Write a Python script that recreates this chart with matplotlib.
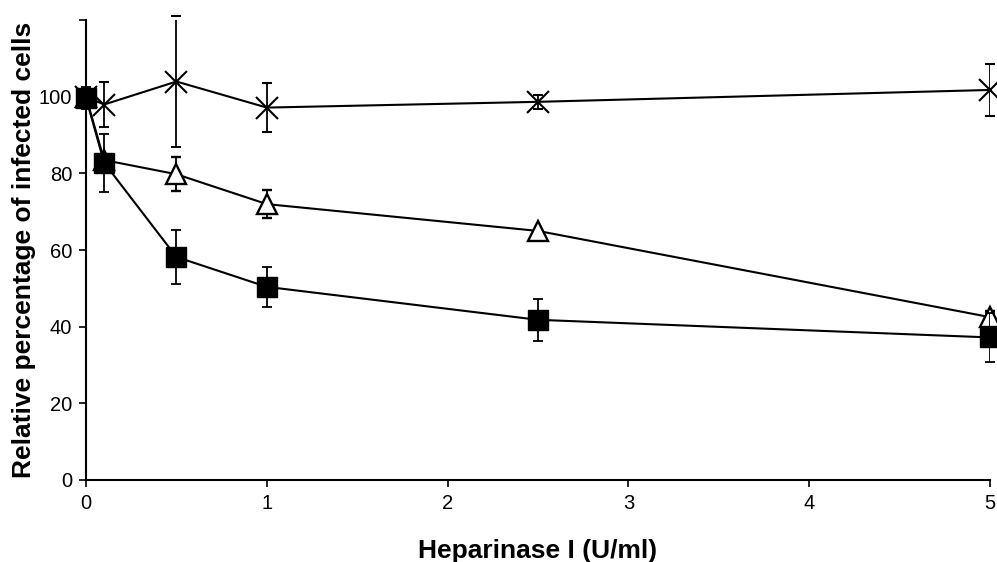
import matplotlib
matplotlib.use("Agg")
import matplotlib.pyplot as plt

# Doses d'heparinase I (U/ml)
doses = [0, 0.1, 0.5, 1, 2.5, 5]

# Serie croix
croix = [100, 98, 104, 97.2, 98.7, 101.8]
croix_err = [0, 6, 17, 6.4, 1.8, 6.9]

# Serie triangles
triangles = [100, 83.5, 79.8, 72, 65, 42.5]
triangles_err = [0, 0, 4.4, 3.6, 0, 1.5]

# Serie carres
carres = [99.7, 82.8, 58.2, 50.4, 41.8, 37.2]
carres_err = [3, 7.6, 7, 5.2, 5.5, 6.5]

yticks = [0, 20, 40, 60, 80, 100, 120]
ytick_labels = ["0", "20", "40", "60", "80", "100", ""]

plt.rcParams['font.family'] = ['Liberation Sans', 'DejaVu Sans']

fig = plt.figure(figsize=(9.97, 5.62), dpi=100)
ax = fig.add_axes([0.0863, 0.146, 0.9067, 0.818])

style = dict(color='black', ecolor='black', elinewidth=1.3, capsize=3.6,
             capthick=1.3, linewidth=1.5)

ax.errorbar(doses, croix, yerr=croix_err, marker='x', markersize=16,
            markeredgewidth=1.5, zorder=3, **style)
ax.errorbar(doses, triangles, yerr=triangles_err, marker='^', markersize=14,
            markerfacecolor='white', markeredgewidth=1.7, zorder=4, **style)
ax.errorbar(doses, carres, yerr=carres_err, marker='s', markersize=14,
            markerfacecolor='black', zorder=5, **style)

ax.set_xlim(0, 5)
ax.set_ylim(0, 120)
ax.set_yticks(yticks)
ax.set_yticklabels(ytick_labels)
ax.set_xticks(range(0, 6))

for side in ['top', 'right']:
    ax.spines[side].set_visible(False)
for side in ['left', 'bottom']:
    ax.spines[side].set_linewidth(1.5)

ax.tick_params(axis='both', direction='out', length=5, width=1.2,
               labelsize=14.5, pad=5)

ax.set_xlabel("Heparinase I (U/ml)", fontsize=19, fontweight='bold', labelpad=19)
ax.set_ylabel("Relative percentage of infected cells", fontsize=19,
              fontweight='bold', labelpad=2)

for line in ax.get_lines():
    line.set_clip_on(False)

fig.savefig("out.png", dpi=100)
